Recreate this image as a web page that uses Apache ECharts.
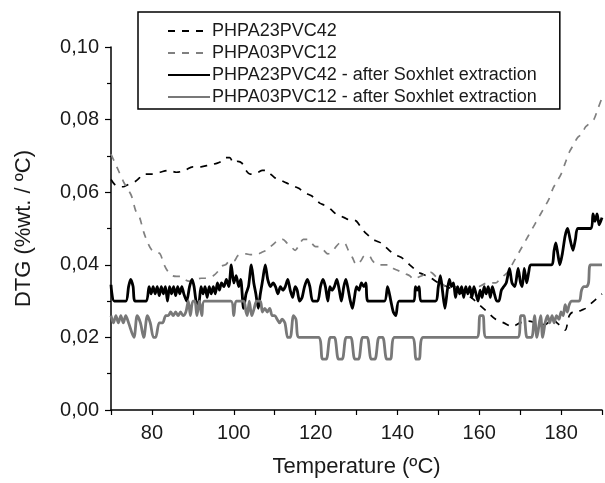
<!DOCTYPE html>
<html>
<head>
<meta charset="utf-8">
<script src="https://cdn.jsdelivr.net/npm/echarts@6/dist/echarts.min.js"></script>
<style>
  html, body { margin: 0; padding: 0; background: #fff; }
  #chart { width: 605px; height: 483px; }
</style>
</head>
<body>
<div id="chart"></div>
<script>
// PHPA23PVC42 (black dashed)
var aTemp = [70, 71, 72, 73, 74, 75, 76, 77, 78, 80, 82, 84, 86, 88, 90, 92, 94, 96, 97, 98, 99, 100, 101, 102, 103, 104, 105, 106, 107, 108, 109, 110,
  111, 112, 113, 114, 115, 116, 117, 118, 119, 120, 121, 122, 123, 124, 125, 126, 127, 128, 129, 130, 131, 132, 133, 134, 135, 136, 137, 138, 139, 140,
  141, 142, 143, 144, 145, 146, 147, 148, 150, 152, 154, 156, 158, 160, 162, 164, 166, 168, 170, 172, 174, 176, 178, 179, 180, 181, 182, 183, 184, 185,
  186, 187, 188, 189, 190];
var aVal = [0.0635, 0.062, 0.0615, 0.0615, 0.062, 0.0625, 0.063, 0.064, 0.065, 0.065, 0.0655, 0.066, 0.0655, 0.066, 0.067, 0.067, 0.0675, 0.068, 0.0685, 0.0695, 0.0695, 0.068, 0.0685, 0.068, 0.066, 0.065, 0.065, 0.0655, 0.066, 0.066, 0.065, 0.064,
  0.0635, 0.063, 0.0625, 0.062, 0.0615, 0.061, 0.060, 0.0595, 0.059, 0.058, 0.057, 0.0565, 0.056, 0.055, 0.054, 0.0535, 0.053, 0.0525, 0.0525, 0.052, 0.0505, 0.049, 0.048, 0.047, 0.0465, 0.046, 0.045, 0.044, 0.043, 0.0425,
  0.042, 0.041, 0.040, 0.039, 0.038, 0.0375, 0.037, 0.0365, 0.035, 0.034, 0.033, 0.032, 0.031, 0.029, 0.027, 0.025, 0.024, 0.023, 0.024, 0.0245, 0.024, 0.0235, 0.025, 0.024, 0.023, 0.022, 0.026, 0.027, 0.027, 0.0275,
  0.028, 0.029, 0.030, 0.031, 0.032];

// PHPA03PVC12 (grey dashed)
var bTemp = [70, 71, 72, 73, 74, 75, 76, 77, 78, 79, 80, 81, 82, 83, 84, 85, 86, 87, 88, 89, 90, 91, 92, 93, 94, 95, 96, 97, 98, 99, 100,
  101, 102, 103, 104, 105, 106, 107, 108, 109, 110, 111, 112, 113, 114, 115, 116, 117, 118, 119, 120, 121, 122, 123, 124, 125, 126, 127, 128, 129, 130,
  131, 132, 133, 134, 135, 136, 137, 138, 139, 140, 141, 142, 143, 144, 145, 146, 147, 148, 150, 152, 154, 156, 158, 160, 162, 164, 165, 166, 167, 168,
  169, 170, 171, 172, 173, 174, 175, 176, 177, 178, 179, 180, 181, 182, 183, 184, 185, 186, 187, 188, 189, 190];
var bVal = [0.0705, 0.068, 0.0655, 0.063, 0.061, 0.059, 0.055, 0.053, 0.049, 0.046, 0.044, 0.0435, 0.043, 0.040, 0.038, 0.037, 0.0368, 0.0368, 0.036, 0.0355, 0.0355, 0.036, 0.0363, 0.0363, 0.0365, 0.037, 0.038, 0.0396, 0.040, 0.041, 0.041,
  0.0425, 0.043, 0.043, 0.0428, 0.0428, 0.043, 0.0435, 0.044, 0.045, 0.046, 0.047, 0.047, 0.046, 0.045, 0.044, 0.0455, 0.047, 0.047, 0.046, 0.045, 0.045, 0.044, 0.043, 0.0435, 0.045, 0.046, 0.046, 0.044, 0.042, 0.040,
  0.041, 0.0425, 0.0425, 0.041, 0.040, 0.040, 0.040, 0.040, 0.039, 0.0385, 0.038, 0.0375, 0.037, 0.036, 0.0365, 0.037, 0.0375, 0.038, 0.036, 0.034, 0.034, 0.033, 0.033, 0.034, 0.035, 0.035, 0.036, 0.037, 0.038, 0.040,
  0.042, 0.044, 0.046, 0.048, 0.050, 0.052, 0.054, 0.056, 0.058, 0.061, 0.063, 0.065, 0.068, 0.071, 0.073, 0.075, 0.076, 0.078, 0.079, 0.080, 0.083, 0.086];

// PHPA23PVC42 - after Soxhlet extraction (black solid)
var cTemp = [70, 70.8, 73.6, 74.3, 74.8, 75.4, 75.9, 78.6, 79.3, 79.8, 80.3, 80.8, 81.3, 81.8, 82.3, 82.8, 83.3, 83.8, 84.3, 84.8, 85.3, 85.8, 86.3, 86.8, 87.3, 87.8, 88.5,
  89.2, 89.8, 90.3, 90.8, 91.4, 92, 92.5, 93, 93.5, 94, 94.5, 95, 95.5, 96, 96.5, 97, 97.6, 98.2, 98.8, 99.4, 100, 100.6, 101.2, 101.7, 102.4, 103, 103.6,
  104.3, 104.9, 105.4, 106, 106.5, 107.1, 107.7, 108.3, 109, 109.6, 110.2, 110.8, 111.4, 112, 112.6, 113.2, 113.8, 114.4, 115, 115.5, 116.1, 116.7, 117.3,
  118, 118.6, 119.3, 120.5, 121.2, 121.8, 122.4, 123, 123.5, 124, 124.6, 125.2, 125.8, 126.3, 126.9, 127.4, 128, 128.5, 129, 129.5, 130, 130.6, 131.2,
  131.8, 132.3, 132.8, 136.8, 137.6, 138.4, 139, 139.6, 140.4, 144, 144.4, 144.8, 145.3, 145.8, 149.3, 150, 150.5, 151, 151.6, 152.2, 152.7, 153.2, 153.7,
  154.2, 154.7, 155.2, 155.7, 156.2, 156.7, 157.2, 157.7, 158.2, 158.7, 159.2, 159.7, 160.2, 160.7, 161.2, 161.7, 162.2, 162.7, 163.2, 163.7, 164.3, 164.8,
  165.4, 166, 166.6, 167.4, 168, 168.7, 169.5, 170.1, 170.5, 171, 171.6, 172.1, 172.6, 177.6, 178.3, 178.7, 179.2, 179.7, 180.3, 181, 181.6, 182.2, 182.9,
  183.5, 184.1, 187.3, 187.8, 188.3, 188.8, 189.3, 190];
var cVal = [0.0345, 0.030, 0.030, 0.034, 0.036, 0.034, 0.030, 0.030, 0.034, 0.032, 0.034, 0.032, 0.034, 0.0315, 0.034, 0.032, 0.034, 0.030, 0.034, 0.032, 0.034, 0.0315, 0.034, 0.032, 0.034, 0.032, 0.030,
  0.034, 0.036, 0.034, 0.030, 0.029, 0.034, 0.032, 0.034, 0.031, 0.034, 0.032, 0.034, 0.032, 0.035, 0.033, 0.035, 0.034, 0.036, 0.034, 0.040, 0.035, 0.037, 0.034, 0.036, 0.028, 0.032, 0.034,
  0.040, 0.035, 0.032, 0.028, 0.032, 0.036, 0.040, 0.036, 0.034, 0.035, 0.034, 0.032, 0.034, 0.033, 0.034, 0.036, 0.033, 0.031, 0.034, 0.033, 0.030, 0.031, 0.034,
  0.036, 0.034, 0.030, 0.030, 0.034, 0.036, 0.034, 0.030, 0.034, 0.033, 0.034, 0.036, 0.033, 0.030, 0.034, 0.036, 0.033, 0.030, 0.028, 0.031, 0.034, 0.033, 0.035,
  0.034, 0.035, 0.030, 0.030, 0.034, 0.030, 0.027, 0.026, 0.030, 0.030, 0.034, 0.033, 0.034, 0.030, 0.030, 0.034, 0.037, 0.033, 0.028, 0.033, 0.036, 0.034, 0.035,
  0.031, 0.034, 0.032, 0.034, 0.031, 0.034, 0.032, 0.034, 0.031, 0.034, 0.032, 0.030, 0.033, 0.031, 0.034, 0.032, 0.034, 0.031, 0.034, 0.032, 0.030, 0.030,
  0.033, 0.034, 0.035, 0.039, 0.035, 0.034, 0.039, 0.035, 0.034, 0.039, 0.035, 0.038, 0.040, 0.040, 0.044, 0.046, 0.043, 0.040, 0.043, 0.048, 0.050, 0.047, 0.044,
  0.047, 0.050, 0.050, 0.054, 0.052, 0.054, 0.051, 0.053];

// PHPA03PVC12 - after Soxhlet extraction (grey solid)
var dTemp = [70, 70.6, 71.2, 71.8, 72.4, 73, 73.6, 74.3, 75.6, 76.4, 77.2, 78, 78.9, 79.6, 80.4, 80.9, 81.8, 82.6, 83.4, 84, 84.6, 85.2, 85.8, 86.4, 87, 87.6,
  88.3, 88.9, 89.4, 90, 90.5, 91, 91.6, 92.2, 92.8, 99.3, 100, 100.6, 102.4, 103, 103.3, 103.8, 104.4, 105, 105.6, 106.5, 107, 107.6, 108.2, 108.8, 109.4,
  110, 110.6, 111.2, 111.8, 112.5, 113.2, 113.8, 114.6, 115.2, 116, 120.7, 121.7, 122.6, 123.6, 124.6, 125.6, 126.5, 127.5, 128.6, 129.6, 130.5, 131.5,
  132.6, 133.6, 134.5, 135.5, 136.4, 137.4, 138.3, 139.3, 143.6, 144.6, 145.3, 146.3, 159.4, 160.2, 160.9, 161.7, 169.4, 170.2, 170.9, 171.7, 172.8, 173.5, 174.1,
  175, 175.5, 176.1, 176.7, 177.2, 177.8, 178.3, 178.9, 179.5, 180, 180.5, 181, 181.5, 182, 182.6, 184.4, 185, 185.6, 186.2, 186.7, 187.2, 190];
var dVal = [0.026, 0.024, 0.026, 0.024, 0.026, 0.024, 0.026, 0.024, 0.020, 0.026, 0.024, 0.020, 0.026, 0.024, 0.020, 0.020, 0.024, 0.024, 0.026, 0.026, 0.027, 0.026, 0.027, 0.026, 0.027, 0.026,
  0.027, 0.030, 0.026, 0.030, 0.030, 0.026, 0.030, 0.026, 0.030, 0.030, 0.026, 0.030, 0.030, 0.027, 0.026, 0.030, 0.026, 0.028, 0.030, 0.030, 0.027, 0.028, 0.027, 0.028, 0.026,
  0.026, 0.025, 0.024, 0.025, 0.024, 0.020, 0.020, 0.026, 0.025, 0.020, 0.020, 0.014, 0.014, 0.020, 0.020, 0.014, 0.014, 0.020, 0.020, 0.014, 0.014, 0.020,
  0.020, 0.014, 0.014, 0.020, 0.020, 0.014, 0.014, 0.020, 0.020, 0.014, 0.014, 0.020, 0.020, 0.026, 0.026, 0.020, 0.020, 0.026, 0.026, 0.020, 0.020, 0.026, 0.020,
  0.026, 0.020, 0.024, 0.026, 0.024, 0.026, 0.024, 0.026, 0.025, 0.027, 0.026, 0.029, 0.027, 0.029, 0.030, 0.030, 0.033, 0.034, 0.034, 0.035, 0.040, 0.040];

var seriesNames = ["PHPA23PVC42", "PHPA03PVC12", "PHPA23PVC42 - after Soxhlet extraction", "PHPA03PVC12 - after Soxhlet extraction"];

function pairs(t, v) {
  return t.map(function (x, i) { return [x, v[i]]; });
}

var FONT = "Liberation Sans, Arial, sans-serif";
var chart = echarts.init(document.getElementById("chart"));

var option = {
  backgroundColor: "#fff",
  animation: false,
  grid: { left: 111, right: 0, top: 47, bottom: 70 },
  legend: {
    orient: "vertical",
    left: 138,
    top: 12,
    padding: [10, 23, 3, 29],
    itemGap: 4,
    itemWidth: 42,
    itemHeight: 14,
    borderColor: "#000",
    borderWidth: 1.5,
    backgroundColor: "#fff",
    itemStyle: { opacity: 0 },
    textStyle: { fontFamily: FONT, fontSize: 18, color: "#1a1a1a", padding: [0, 0, 0, -3] },
    data: seriesNames
  },
  xAxis: {
    type: "value",
    min: 70,
    max: 190,
    interval: 10,
    name: "Temperature (ºC)",
    nameLocation: "middle",
    nameGap: 46,
    nameTextStyle: { fontFamily: FONT, fontSize: 22, color: "#1a1a1a" },
    axisLine: { lineStyle: { color: "#000", width: 1.5 } },
    axisTick: { length: 5, lineStyle: { color: "#000", width: 1.2 } },
    axisLabel: {
      fontFamily: FONT, fontSize: 20, color: "#1a1a1a", margin: 13,
      formatter: function (v) { return (v % 20 === 0 && v > 70 && v < 190) ? String(v) : ""; }
    },
    splitLine: { show: false }
  },
  yAxis: {
    type: "value",
    min: 0,
    max: 0.1,
    interval: 0.02,
    name: "DTG (%wt. / ºC)",
    nameLocation: "middle",
    nameGap: 76,
    nameRotate: 90,
    nameTextStyle: { fontFamily: FONT, fontSize: 22, color: "#1a1a1a" },
    axisLine: { show: true, lineStyle: { color: "#000", width: 1.5 } },
    axisTick: { show: true, length: 6, lineStyle: { color: "#000", width: 1.2 } },
    minorTick: { show: true, splitNumber: 2, length: 4, lineStyle: { color: "#000", width: 1.2 } },
    axisLabel: {
      fontFamily: FONT, fontSize: 20, color: "#1a1a1a", margin: 12,
      formatter: function (v) { return v.toFixed(2).replace(".", ","); }
    },
    splitLine: { show: false }
  },
  series: [
    {
      name: seriesNames[0], type: "line", showSymbol: false, symbol: "none", smooth: 0.3,
      lineStyle: { color: "#000", width: 1.7, type: [7, 7] }, itemStyle: { color: "#000" },
      data: pairs(aTemp, aVal)
    },
    {
      name: seriesNames[1], type: "line", showSymbol: false, symbol: "none", smooth: 0.3,
      lineStyle: { color: "#808080", width: 1.7, type: [7, 7] }, itemStyle: { color: "#808080" },
      data: pairs(bTemp, bVal)
    },
    {
      name: seriesNames[2], type: "line", showSymbol: false, symbol: "none", smooth: 0.25,
      lineStyle: { color: "#000", width: 2.8 }, itemStyle: { color: "#000" },
      data: pairs(cTemp, cVal)
    },
    {
      name: seriesNames[3], type: "line", showSymbol: false, symbol: "none", smooth: 0.3,
      lineStyle: { color: "#787878", width: 2.8 }, itemStyle: { color: "#787878" },
      data: pairs(dTemp, dVal)
    }
  ]
};

chart.setOption(option);
</script>
</body>
</html>
